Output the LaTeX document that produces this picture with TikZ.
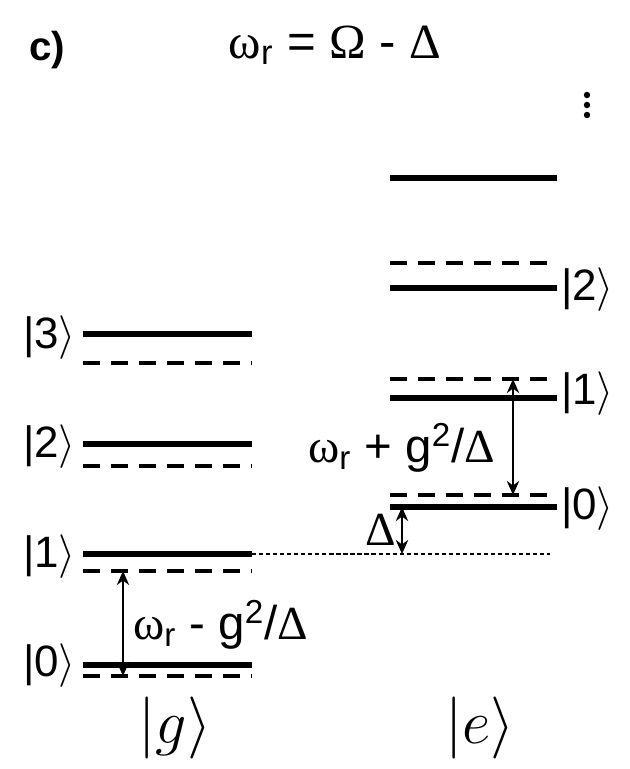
\documentclass[tikz,border=0pt]{standalone}
\usepackage{fontspec}
\setmainfont{Liberation Sans}
\newfontfamily\grk{Liberation Serif}
\usetikzlibrary{positioning, arrows.meta}
\newcommand{\ketlab}[1]{|#1$\rangle$}
\newcommand{\omr}{{\grk ω}\textsubscript{r}}

\begin{document}
\begin{tikzpicture}[
    x=0.02cm, y=-0.02cm,
    level/.style={line width=3.2pt},
    shifted/.style={line width=2.3pt, dash pattern=on 0.34cm off 0.22cm},
    guide/.style={line width=0.9pt, dash pattern=on 2.4pt off 1.6pt},
    arr/.style={{Stealth[length=8pt,width=7pt]}-{Stealth[length=8pt,width=7pt]}, line width=1.5pt},
    lab/.style={font=\fontsize{27}{32}\selectfont, inner sep=1pt},
    klab/.style={font=\fontsize{25}{30}\selectfont, inner sep=1pt},
    big/.style={font=\Huge, scale=1.42}
]
    \useasboundingbox (0,0) rectangle (630,769);

    % titles
    \node[lab, font=\fontsize{23}{28}\selectfont\bfseries] (tag) at (47,50) {c)};
    \node[lab, font=\fontsize{28}{33}\selectfont] (rel) at (335,45) {\omr{} = {\grk Ω} - {\grk Δ}};

    % ground state ladder |g>
    \draw[level] (83,334) -- (252,334);
    \draw[shifted] (83,363) -- (252,363);
    \draw[level] (83,444) -- (252,444);
    \draw[shifted] (83,466) -- (252,466);
    \draw[level] (83,554) -- (252,554);
    \draw[shifted] (83,571) -- (252,571);
    \draw[level] (83,665) -- (252,665);
    \draw[shifted] (83,676) -- (252,676);

    \node[klab, anchor=east] (g3) at (78,338) {\ketlab{3}};
    \node[klab, anchor=east] (g2) at (78,447) {\ketlab{2}};
    \node[klab, anchor=east] (g1) at (78,557) {\ketlab{1}};
    \node[klab, anchor=east] (g0) at (78,666) {\ketlab{0}};

    % excited state ladder |e>
    \draw[level] (390,178) -- (557,178);
    \draw[shifted] (390,263) -- (557,263);
    \draw[level] (390,288) -- (557,288);
    \draw[shifted] (390,379) -- (557,379);
    \draw[level] (390,398) -- (557,398);
    \draw[shifted] (390,495) -- (557,495);
    \draw[level] (390,507) -- (557,507);

    \node[klab, anchor=west] (e2) at (559,290) {\ketlab{2}};
    \node[klab, anchor=west] (e1) at (559,394) {\ketlab{1}};
    \node[klab, anchor=west] (e0) at (559,509) {\ketlab{0}};

    \foreach \y in {95,105,115}
        \fill (587,\y) circle (3.2);

    % reference line of |1> of |g>
    \draw[guide] (252,554) -- (550,554);

    % transitions
    \coordinate (gtop) at (123,571);
    \coordinate (gbot) at (123,676);
    \coordinate (etop) at (513,379);
    \coordinate (ebot) at (513,495);
    \coordinate (dtop) at (402,507);
    \coordinate (dbot) at (402,554);

    \draw[arr] (gbot) -- (gtop);
    \draw[arr] (etop) -- (ebot);
    \draw[arr] (dtop) -- (dbot);

    \node[lab, anchor=west] (gap) at (131,625) {\omr{} - g\textsuperscript{2}/{\grk Δ}};
    \node[lab, anchor=east] (eap) at (497,448) {\omr{} + g\textsuperscript{2}/{\grk Δ}};
    \node[lab, anchor=east] (det) at (398,530) {{\grk Δ}};

    % atom states
    \node[big] (gs) at (175,728) {$|g\rangle$};
    \node[big] (es) at (480,728) {$|e\rangle$};
\end{tikzpicture}
\end{document}
